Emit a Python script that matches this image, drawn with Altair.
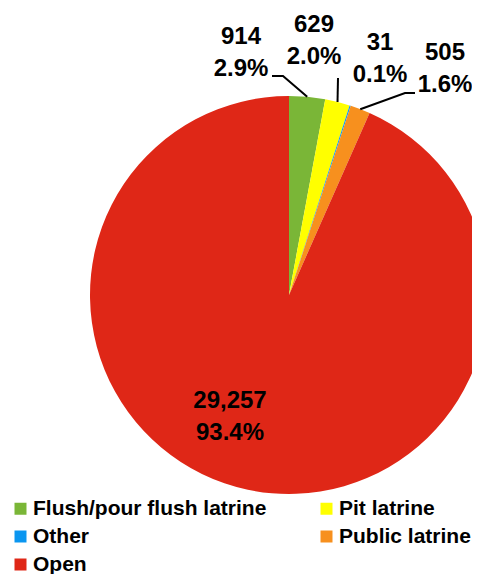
import altair as alt
import numpy as np
import pandas as pd

# ---- data ----
categories = ["Flush/pour flush latrine", "Pit latrine", "Other", "Public latrine", "Open"]
values = [914, 629, 31, 505, 29257]
colors = ["#7AB637", "#FFFF00", "#0A96F0", "#F7901E", "#DF2717"]
legend_order = ["Flush/pour flush latrine", "Other", "Open", "Pit latrine", "Public latrine"]

# ---- layout (page pixels) ----
OFF = 8
CX, CY, R = 289, 295, 199
FONT = "Liberation Sans"
label_pos = {  # text centre x, first baseline y
    "Flush/pour flush latrine": (241, 44),
    "Pit latrine": (314, 32),
    "Other": (380, 50),
    "Public latrine": (445, 60),
    "Open": (230, 408),
}
leader_from = {
    "Flush/pour flush latrine": [(272, 76), (283, 76)],
    "Pit latrine": [(338, 78)],
    "Public latrine": [(415, 93), (405, 93)],
}

total = sum(values)
pie_df = pd.DataFrame({"category": categories, "value": values, "idx": range(len(values))})
color_of = dict(zip(categories, colors))

# label text and leader lines
cum = np.cumsum([0] + values[:-1])
mid = {c: (s + v / 2) / total * 2 * np.pi for c, s, v in zip(categories, cum, values)}
lab_rows = []
for c, v in zip(categories, values):
    x, y = label_pos[c]
    lab_rows.append({"lx": x - OFF, "ly": y - OFF,
                     "label": f"{v:,}\n{v / total * 100:.1f}%"})
lab_df = pd.DataFrame(lab_rows)

line_rows = []
for c, pts in leader_from.items():
    ex = CX + R * np.sin(mid[c])
    ey = CY - R * np.cos(mid[c])
    allpts = pts + [(ex, ey)]
    for i, (px, py) in enumerate(allpts):
        line_rows.append({"cat": c, "o": i, "px": px - OFF, "py": py - OFF})
line_df = pd.DataFrame(line_rows)

pie = alt.Chart(pie_df).mark_arc(radius=R).encode(
    theta=alt.Theta("value:Q", stack=True),
    order=alt.Order("idx:Q"),
    x=alt.value(CX - OFF),
    y=alt.value(CY - OFF),
    color=alt.Color(
        "category:N",
        scale=alt.Scale(domain=legend_order, range=[color_of[c] for c in legend_order]),
        legend=alt.Legend(
            orient="none", legendX=2, legendY=490, columns=2, title=None,
            symbolType="square", symbolSize=144, symbolStrokeWidth=0,
            labelFont=FONT, labelFontSize=21, labelFontWeight="bold",
            labelColor="black", labelLimit=400, labelOffset=2,
            columnPadding=49, rowPadding=6, padding=0,
        ),
    ),
)

lines = alt.Chart(line_df).mark_line(color="black", strokeWidth=2).encode(
    x=alt.X("px:Q", scale=None),
    y=alt.Y("py:Q", scale=None),
    detail="cat:N",
    order="o:Q",
)

labels = alt.Chart(lab_df).mark_text(
    align="center", baseline="alphabetic", lineBreak="\n", lineHeight=32,
    font=FONT, fontSize=24, fontWeight="bold", color="black",
).encode(
    x=alt.X("lx:Q", scale=None),
    y=alt.Y("ly:Q", scale=None),
    text="label:N",
)

chart = alt.layer(pie, lines, labels).properties(
    width=464, height=566, autosize=alt.AutoSizeParams(type="none"), padding=0,
).configure_view(stroke=None)

chart.save("out.html", embed_options={"renderer": "svg", "actions": False})
